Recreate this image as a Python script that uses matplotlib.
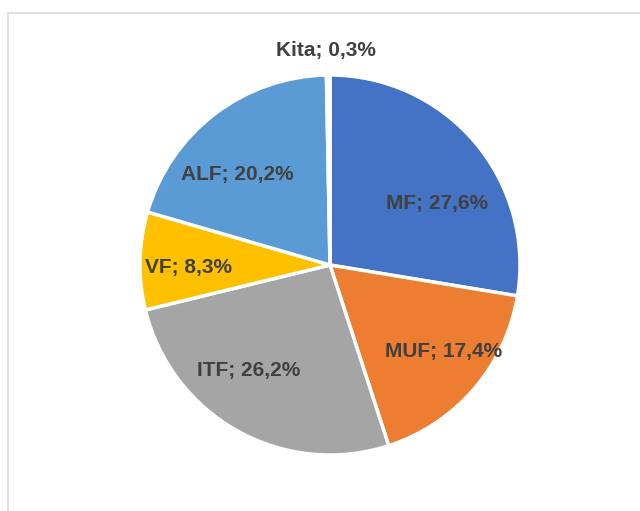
import matplotlib
matplotlib.use('Agg')
import matplotlib.pyplot as plt
from matplotlib.lines import Line2D
import numpy as np

plt.rcParams['font.family'] = ['Liberation Sans', 'DejaVu Sans']

categorias = ['MF', 'MUF', 'ITF', 'VF', 'ALF', 'Kita']
valores = [27.6, 17.4, 26.2, 8.3, 20.2, 0.3]
cores = ['#4472C4', '#ED7D31', '#A5A5A5', '#FFC000', '#5B9BD5', '#FFFFFF']
# posicao dos rotulos: distancia radial (fracao do raio) e desvio angular (graus)
dist_rotulo = [0.65, 0.75, 0.70, 0.745, 0.68, 1.13]
desvio_rotulo = [-10.6, 3.4, -8.6, 2.1, 8.2, 0.5]

fig = plt.figure(figsize=(6.4, 5.11), dpi=100)
ax = fig.add_axes([0.21875, 0.1096, 0.59375, 0.7436])

wedges, _ = ax.pie(valores, colors=cores, startangle=90, counterclock=False,
                   wedgeprops=dict(edgecolor='white', linewidth=2.5))
ax.set_xlim(-1, 1)
ax.set_ylim(-1, 1)
ax.set_aspect('equal')

for w, cat, val, d, dv in zip(wedges, categorias, valores, dist_rotulo, desvio_rotulo):
    ang = np.deg2rad((w.theta1 + w.theta2) / 2 + dv)
    txt = f'{cat}; {val:.1f}%'.replace('.', ',')
    ax.text(d * np.cos(ang), d * np.sin(ang), txt, ha='center', va='center',
            fontsize=15, fontweight='bold', color='#404040')

# borda da area do grafico
fig.add_artist(Line2D([7.5/640, 7.5/640], [0, 1 - 13/511], transform=fig.transFigure,
                      color='#D9D9D9', lw=1.2))
fig.add_artist(Line2D([7.5/640, 1], [1 - 13/511, 1 - 13/511], transform=fig.transFigure,
                      color='#D9D9D9', lw=1.2))

plt.savefig('out.png', dpi=100)
